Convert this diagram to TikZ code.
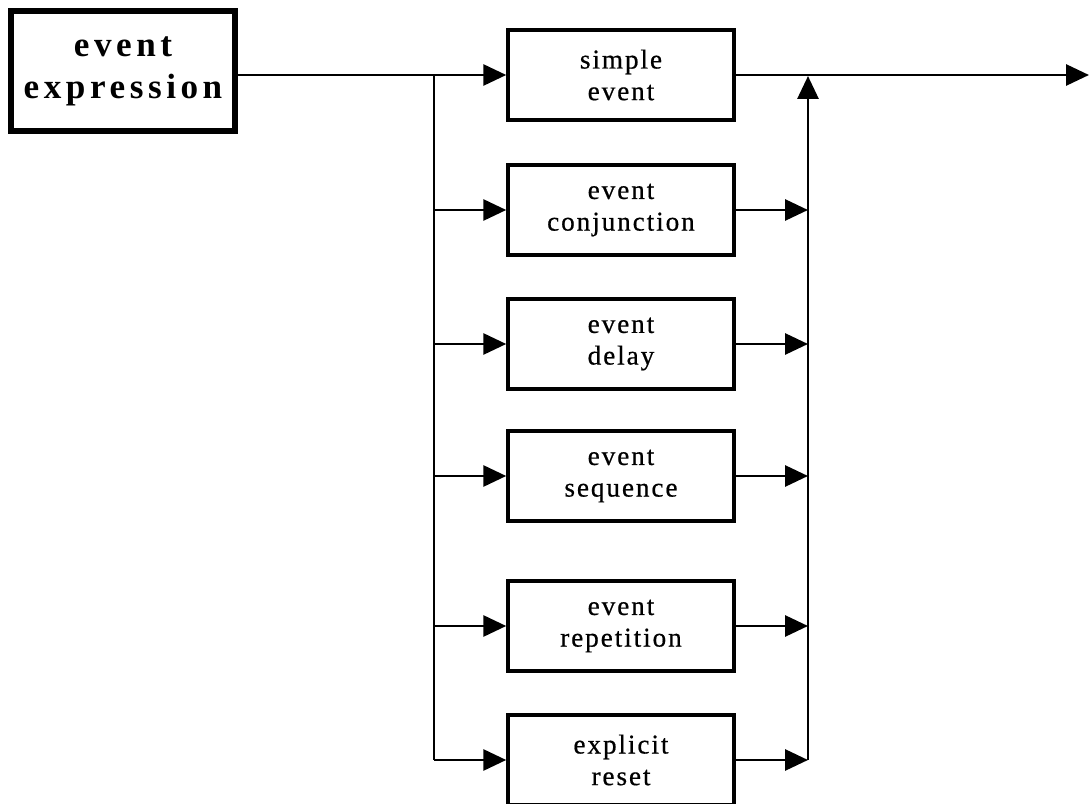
\documentclass[tikz,border=0pt]{standalone}
\usepackage{fontspec}
\setmainfont{Liberation Serif}
\newfontfamily\headfont[LetterSpace=13]{Liberation Serif}
\newfontfamily\blockfont[LetterSpace=7,FakeBold=0.6]{Liberation Serif}
\usepackage{tikz}
\usetikzlibrary{arrows.meta, positioning, calc}

\begin{document}
\begin{tikzpicture}[
  x=0.02cm, y=-0.02cm,
  head/.style={draw=black, line width=3.8pt, fill=white, inner sep=0pt, minimum width=4.48cm, minimum height=2.4cm, align=center, font=\headfont\bfseries\fontsize{20}{24}\selectfont},
  block/.style={draw=black, line width=2pt, fill=white, inner sep=0pt, minimum width=4.52cm, minimum height=1.8cm, align=center, font=\blockfont\fontsize{15.5}{18}\selectfont},
  flow/.style={line width=1.7pt},
  arr/.style={flow, -{Triangle[length=0.46cm, width=0.42cm]}},
]
\useasboundingbox (0,0) rectangle (1090,804);

\node[head] (expr) at (123,71) {event\\expression};

\node[block] (simple) at (621,75) {simple\\event};
\node[block] (conj) at (621,210) {event\\conjunction};
\node[block] (delay) at (621,344) {event\\delay};
\node[block] (seq) at (621,476) {event\\sequence};
\node[block] (rep) at (621,626) {event\\repetition};
\node[block] (reset) at (621,760) {explicit\\reset};

\coordinate (split) at (434,75);
\coordinate (merge) at (808,76);
\coordinate (out) at (1089,75);

\draw[arr] (expr.east |- simple.west) -- (simple.west);
\draw[flow] (split) -- (split |- reset.west);
\draw[arr] (split |- conj.west) -- (conj.west);
\draw[arr] (split |- delay.west) -- (delay.west);
\draw[arr] (split |- seq.west) -- (seq.west);
\draw[arr] (split |- rep.west) -- (rep.west);
\draw[arr] (split |- reset.west) -- (reset.west);

\draw[arr] (conj.east) -- (merge |- conj.east);
\draw[arr] (delay.east) -- (merge |- delay.east);
\draw[arr] (seq.east) -- (merge |- seq.east);
\draw[arr] (rep.east) -- (merge |- rep.east);
\draw[arr] (reset.east) -- (merge |- reset.east);
\draw[arr] (merge |- reset.east) -- (merge);

\draw[arr] (simple.east) -- (out);
\end{tikzpicture}
\end{document}
